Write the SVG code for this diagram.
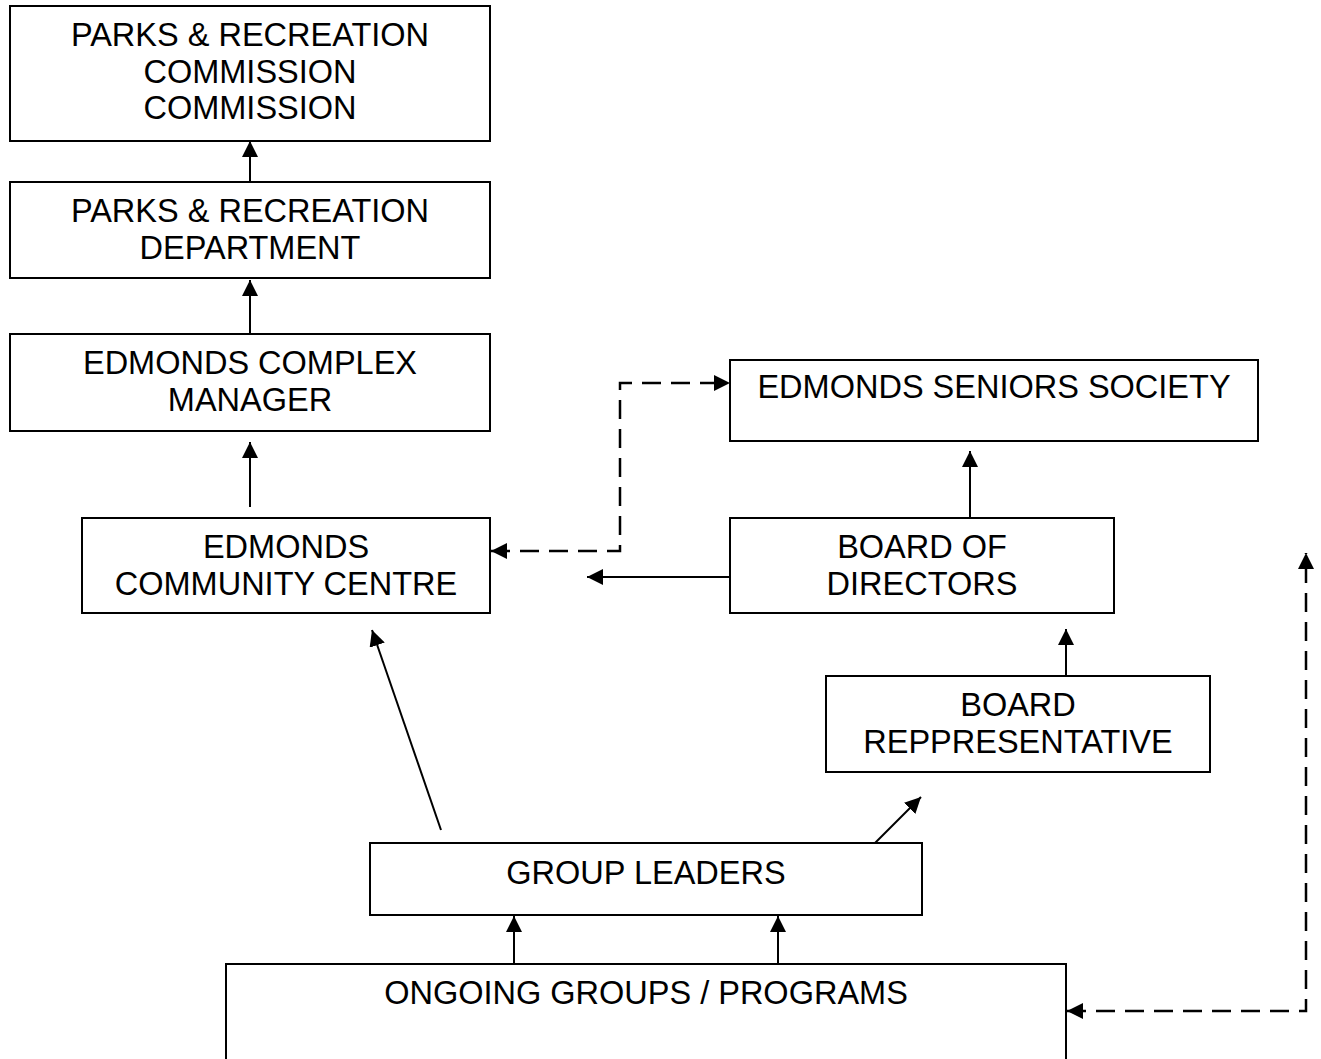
<svg xmlns="http://www.w3.org/2000/svg" width="1321" height="1059" viewBox="0 0 1321 1059">
<style>
.box{fill:#fff;stroke:#000;stroke-width:2}
.t{font-family:"Liberation Sans",Arial,sans-serif;font-size:32.5px;fill:#000;text-anchor:middle}
.c{fill:none;stroke:#000;stroke-width:2}
.d{stroke-width:2.5;stroke-dasharray:19 10}
</style>
<defs>
<marker id="ah" markerUnits="userSpaceOnUse" markerWidth="16" markerHeight="16" viewBox="0 0 15 15" refX="15" refY="7.5" orient="auto-start-reverse">
<path d="M0,0 L15,7.5 L0,15 z" fill="#000"/>
</marker>
</defs>
<rect width="1321" height="1059" fill="#fff"/>
<g id="connectors">
<line class="c" x1="250" y1="182" x2="250" y2="141" marker-end="url(#ah)"/>
<line class="c" x1="250" y1="333" x2="250" y2="280" marker-end="url(#ah)"/>
<line class="c" x1="250" y1="507" x2="250" y2="442" marker-end="url(#ah)"/>
<line class="c" x1="970" y1="524" x2="970" y2="451" marker-end="url(#ah)"/>
<line class="c" x1="1066" y1="676" x2="1066" y2="629" marker-end="url(#ah)"/>
<line class="c" x1="730" y1="577" x2="587" y2="577" marker-end="url(#ah)"/>
<line class="c" x1="441" y1="830" x2="372" y2="630" marker-end="url(#ah)"/>
<line class="c" x1="875" y1="843" x2="921" y2="797" marker-end="url(#ah)"/>
<line class="c" x1="514" y1="964" x2="514" y2="916" marker-end="url(#ah)"/>
<line class="c" x1="778" y1="964" x2="778" y2="916" marker-end="url(#ah)"/>
<path class="c d" d="M491,551 H620 V383 H730" marker-start="url(#ah)" marker-end="url(#ah)"/>
<path class="c d" d="M1067,1011 H1306 V553" marker-start="url(#ah)" marker-end="url(#ah)"/>
</g>
<g id="commission">
<rect class="box" x="10" y="6" width="480" height="135"/>
<text class="t" x="250" y="46">PARKS &amp; RECREATION</text>
<text class="t" x="250" y="82.5">COMMISSION</text>
<text class="t" x="250" y="119">COMMISSION</text>
</g>
<g id="department">
<rect class="box" x="10" y="182" width="480" height="96"/>
<text class="t" x="250" y="222">PARKS &amp; RECREATION</text>
<text class="t" x="250" y="259">DEPARTMENT</text>
</g>
<g id="complex-manager">
<rect class="box" x="10" y="334" width="480" height="97"/>
<text class="t" x="250" y="374">EDMONDS COMPLEX</text>
<text class="t" x="250" y="411">MANAGER</text>
</g>
<g id="community-centre">
<rect class="box" x="82" y="518" width="408" height="95"/>
<text class="t" x="286" y="558">EDMONDS</text>
<text class="t" x="286" y="595">COMMUNITY CENTRE</text>
</g>
<g id="seniors-society">
<rect class="box" x="730" y="360" width="528" height="81"/>
<text class="t" x="994" y="398">EDMONDS SENIORS SOCIETY</text>
</g>
<g id="board-of-directors">
<rect class="box" x="730" y="518" width="384" height="95"/>
<text class="t" x="922" y="558">BOARD OF</text>
<text class="t" x="922" y="595">DIRECTORS</text>
</g>
<g id="board-representative">
<rect class="box" x="826" y="676" width="384" height="96"/>
<text class="t" x="1018" y="716">BOARD</text>
<text class="t" x="1018" y="753">REPPRESENTATIVE</text>
</g>
<g id="group-leaders">
<rect class="box" x="370" y="843" width="552" height="72"/>
<text class="t" x="646" y="884">GROUP LEADERS</text>
</g>
<g id="ongoing-groups">
<rect class="box" x="226" y="964" width="840" height="120"/>
<text class="t" x="646" y="1004">ONGOING GROUPS / PROGRAMS</text>
</g>
</svg>
